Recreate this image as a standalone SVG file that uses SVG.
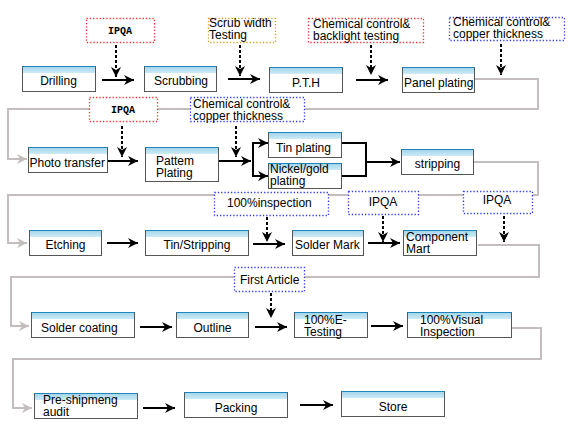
<svg xmlns="http://www.w3.org/2000/svg" width="570" height="435" viewBox="0 0 570 435">
<defs>
<linearGradient id="hg" x1="0" y1="0" x2="0" y2="1">
<stop offset="0" stop-color="#a6d6ec"/>
<stop offset="1" stop-color="#cdeaf6"/>
</linearGradient>
<marker id="ab" viewBox="0 0 10 10" refX="10" refY="5" markerWidth="10" markerHeight="10" markerUnits="userSpaceOnUse" orient="auto">
<path d="M0,0 L10,5 L0,10 L3,5 z" fill="#000"/>
</marker>
<marker id="ag" viewBox="0 0 10 10" refX="10" refY="5" markerWidth="10" markerHeight="10" markerUnits="userSpaceOnUse" orient="auto">
<path d="M0,0 L10,5 L0,10 L3,5 z" fill="#c4bdbd"/>
</marker>
</defs>
<style>
.box{fill:#fff;stroke:#555;stroke-width:1}
.hdr{fill:url(#hg)}
.hl{stroke:#1f86bd;stroke-width:1}
text{font-family:"Liberation Sans",Arial,sans-serif;font-size:12px;fill:#000}
.c{text-anchor:middle}
.mono{font-family:"Liberation Mono","Courier New",monospace;font-size:10px;font-weight:bold}
.lb{fill:#fff;stroke-width:1.3;stroke-dasharray:1.3 2}
.red{stroke:#ff3030}
.org{stroke:#d4a22a}
.blu{stroke:#2f3cff}
.sa{fill:none;stroke:#000;stroke-width:2;marker-end:url(#ab)}
.da{fill:none;stroke:#000;stroke-width:2;stroke-dasharray:3 2;marker-end:url(#ab)}
.ln{fill:none;stroke:#000;stroke-width:2}
.gra{fill:none;stroke:#c4bdbd;stroke-width:2;marker-end:url(#ag)}
</style>
<rect width="570" height="435" fill="#fff"/>

<g id="connectors">
<path class="gra" d="M474,79 H538 V109 H8 V159 H27"/>
<path class="gra" d="M473,162 H538 V195 H8 V243 H27"/>
<path class="gra" d="M478,245 H539 V277 H11 V326 H29"/>
<path class="gra" d="M512,328 H541 V359 H13 V408 H32"/>

<path class="sa" d="M102,80 H134"/>
<path class="sa" d="M228,79 H260"/>
<path class="sa" d="M356,80 H388"/>
<path class="sa" d="M107,161 H138"/>
<path class="sa" d="M218,161 H251"/>
<path class="ln" d="M253,142 V177"/>
<path class="sa" d="M252,143 H268"/>
<path class="sa" d="M252,176 H268"/>
<path class="ln" d="M341,143 H366 V176 H341"/>
<path class="sa" d="M366,162 H400"/>
<path class="sa" d="M107,243 H138"/>
<path class="sa" d="M253,244 H285"/>
<path class="sa" d="M368,243 H400"/>
<path class="sa" d="M140,327 H172"/>
<path class="sa" d="M255,327 H287"/>
<path class="sa" d="M371,326 H403"/>
<path class="sa" d="M143,408 H175"/>
<path class="sa" d="M300,405 H333"/>

<path class="da" d="M116,45 V77"/>
<path class="da" d="M240,45 V76"/>
<path class="da" d="M371,45 V75"/>
<path class="da" d="M501,44 V75"/>
<path class="da" d="M122,126 V157"/>
<path class="da" d="M236,126 V157"/>
<path class="da" d="M267,217 V242"/>
<path class="da" d="M383,216 V242"/>
<path class="da" d="M504,216 V242"/>
<path class="da" d="M271,293 V318"/>
</g>

<g id="l-ipqa1"><rect class="lb red" x="86.5" y="18.5" width="68" height="24"/><text class="mono c" x="120" y="34">IPQA</text></g>
<g id="l-scrub"><rect class="lb org" x="208.5" y="18.5" width="67" height="24"/><text x="209" y="27">Scrub width</text><text x="209" y="39">Testing</text></g>
<g id="l-chem1"><rect class="lb red" x="308.5" y="18.5" width="115" height="24"/><text x="313" y="28">Chemical control&amp;</text><text x="313" y="40">backlight testing</text></g>
<g id="l-chem2"><rect class="lb blu" x="449.5" y="17.5" width="115" height="23"/><text x="453" y="26">Chemical control&amp;</text><text x="453" y="38">copper thickness</text></g>
<g id="l-ipqa2"><rect class="lb red" x="89.5" y="97.5" width="68" height="24"/><text class="mono c" x="123" y="113">IPQA</text></g>
<g id="l-chem3"><rect class="lb blu" x="190.5" y="97.5" width="114" height="24"/><text x="193" y="108">Chemical control&amp;</text><text x="193" y="120">copper thickness</text></g>
<g id="l-insp"><rect class="lb blu" x="214.5" y="192.5" width="114" height="23"/><text x="227" y="207">100%inspection</text></g>
<g id="l-ipqa3"><rect class="lb blu" x="348.5" y="191.5" width="70" height="23"/><text class="c" x="383" y="206">IPQA</text></g>
<g id="l-ipqa4"><rect class="lb blu" x="463.5" y="191.5" width="69" height="22"/><text class="c" x="497" y="204">IPQA</text></g>
<g id="l-first"><rect class="lb blu" x="234.5" y="267.5" width="70" height="24"/><text x="240" y="284">First Article</text></g>

<g id="n-drilling"><rect class="box" x="22.5" y="66.5" width="73" height="25"/><rect class="hdr" x="23" y="67" width="72" height="6"/><line class="hl" x1="22.5" y1="66.5" x2="95.5" y2="66.5"/><text class="c" x="58.5" y="85">Drilling</text></g>
<g id="n-scrubbing"><rect class="box" x="144.5" y="66.5" width="72" height="25"/><rect class="hdr" x="145" y="67" width="71" height="6"/><line class="hl" x1="144.5" y1="66.5" x2="216.5" y2="66.5"/><text class="c" x="181" y="85">Scrubbing</text></g>
<g id="n-pth"><rect class="box" x="269.5" y="67.5" width="73" height="25"/><rect class="hdr" x="270" y="68" width="72" height="6"/><line class="hl" x1="269.5" y1="67.5" x2="342.5" y2="67.5"/><text class="c" x="306" y="87">P.T.H</text></g>
<g id="n-panel"><rect class="box" x="402.5" y="67.5" width="72" height="25"/><rect class="hdr" x="403" y="68" width="71" height="6"/><line class="hl" x1="402.5" y1="67.5" x2="474.5" y2="67.5"/><text x="404" y="87">Panel plating</text></g>

<g id="n-photo"><rect class="box" x="28.5" y="147.5" width="79" height="25"/><rect class="hdr" x="29" y="148" width="78" height="6"/><line class="hl" x1="28.5" y1="147.5" x2="107.5" y2="147.5"/><text x="29.5" y="167">Photo transfer</text></g>
<g id="n-pattem"><rect class="box" x="145.5" y="147.5" width="73" height="34"/><rect class="hdr" x="146" y="148" width="72" height="6"/><line class="hl" x1="145.5" y1="147.5" x2="218.5" y2="147.5"/><text x="156" y="165">Pattem</text><text x="156" y="177">Plating</text></g>
<g id="n-tin"><rect class="box" x="268.5" y="132.5" width="73" height="25"/><rect class="hdr" x="269" y="133" width="72" height="6"/><line class="hl" x1="268.5" y1="132.5" x2="341.5" y2="132.5"/><text x="276" y="152">Tin plating</text></g>
<g id="n-nickel"><rect class="box" x="268.5" y="163.5" width="73" height="25"/><rect class="hdr" x="269" y="164" width="72" height="6"/><line class="hl" x1="268.5" y1="163.5" x2="341.5" y2="163.5"/><text x="270" y="173">Nickel/gold</text><text x="270" y="185">plating</text></g>
<g id="n-stripping"><rect class="box" x="401.5" y="149.5" width="72" height="25"/><rect class="hdr" x="402" y="150" width="71" height="6"/><line class="hl" x1="401.5" y1="149.5" x2="473.5" y2="149.5"/><text class="c" x="437.5" y="168">stripping</text></g>

<g id="n-etching"><rect class="box" x="29.5" y="230.5" width="72" height="25"/><rect class="hdr" x="30" y="231" width="71" height="6"/><line class="hl" x1="29.5" y1="230.5" x2="101.5" y2="230.5"/><text class="c" x="65.5" y="249">Etching</text></g>
<g id="n-tinstrip"><rect class="box" x="145.5" y="230.5" width="103" height="25"/><rect class="hdr" x="146" y="231" width="102" height="6"/><line class="hl" x1="145.5" y1="230.5" x2="248.5" y2="230.5"/><text class="c" x="197" y="249">Tin/Stripping</text></g>
<g id="n-soldermark"><rect class="box" x="292.5" y="230.5" width="71" height="25"/><rect class="hdr" x="293" y="231" width="70" height="6"/><line class="hl" x1="292.5" y1="230.5" x2="363.5" y2="230.5"/><text x="295" y="249">Solder Mark</text></g>
<g id="n-component"><rect class="box" x="403.5" y="230.5" width="73" height="25"/><rect class="hdr" x="404" y="231" width="72" height="6"/><line class="hl" x1="403.5" y1="230.5" x2="476.5" y2="230.5"/><text x="406" y="241">Component</text><text x="406" y="253">Mart</text></g>

<g id="n-soldercoat"><rect class="box" x="31.5" y="312.5" width="103" height="25"/><rect class="hdr" x="32" y="313" width="102" height="6"/><line class="hl" x1="31.5" y1="312.5" x2="134.5" y2="312.5"/><text x="41" y="332">Solder coating</text></g>
<g id="n-outline"><rect class="box" x="176.5" y="312.5" width="72" height="25"/><rect class="hdr" x="177" y="313" width="71" height="6"/><line class="hl" x1="176.5" y1="312.5" x2="248.5" y2="312.5"/><text class="c" x="212.5" y="332">Outline</text></g>
<g id="n-etest"><rect class="box" x="294.5" y="312.5" width="73" height="25"/><rect class="hdr" x="295" y="313" width="72" height="6"/><line class="hl" x1="294.5" y1="312.5" x2="367.5" y2="312.5"/><text x="304" y="324">100%E-</text><text x="304" y="336">Testing</text></g>
<g id="n-visual"><rect class="box" x="407.5" y="312.5" width="104" height="25"/><rect class="hdr" x="408" y="313" width="103" height="6"/><line class="hl" x1="407.5" y1="312.5" x2="511.5" y2="312.5"/><text x="420" y="324">100%Visual</text><text x="420" y="336">Inspection</text></g>

<g id="n-preship"><rect class="box" x="34.5" y="393.5" width="103" height="25"/><rect class="hdr" x="35" y="394" width="102" height="6"/><line class="hl" x1="34.5" y1="393.5" x2="137.5" y2="393.5"/><text x="43" y="404">Pre-shipmeng</text><text x="43" y="416">audit</text></g>
<g id="n-packing"><rect class="box" x="184.5" y="392.5" width="103" height="25"/><rect class="hdr" x="185" y="393" width="102" height="6"/><line class="hl" x1="184.5" y1="392.5" x2="287.5" y2="392.5"/><text class="c" x="236" y="412">Packing</text></g>
<g id="n-store"><rect class="box" x="341.5" y="391.5" width="103" height="25"/><rect class="hdr" x="342" y="392" width="102" height="6"/><line class="hl" x1="341.5" y1="391.5" x2="444.5" y2="391.5"/><text class="c" x="393" y="411">Store</text></g>
</svg>
